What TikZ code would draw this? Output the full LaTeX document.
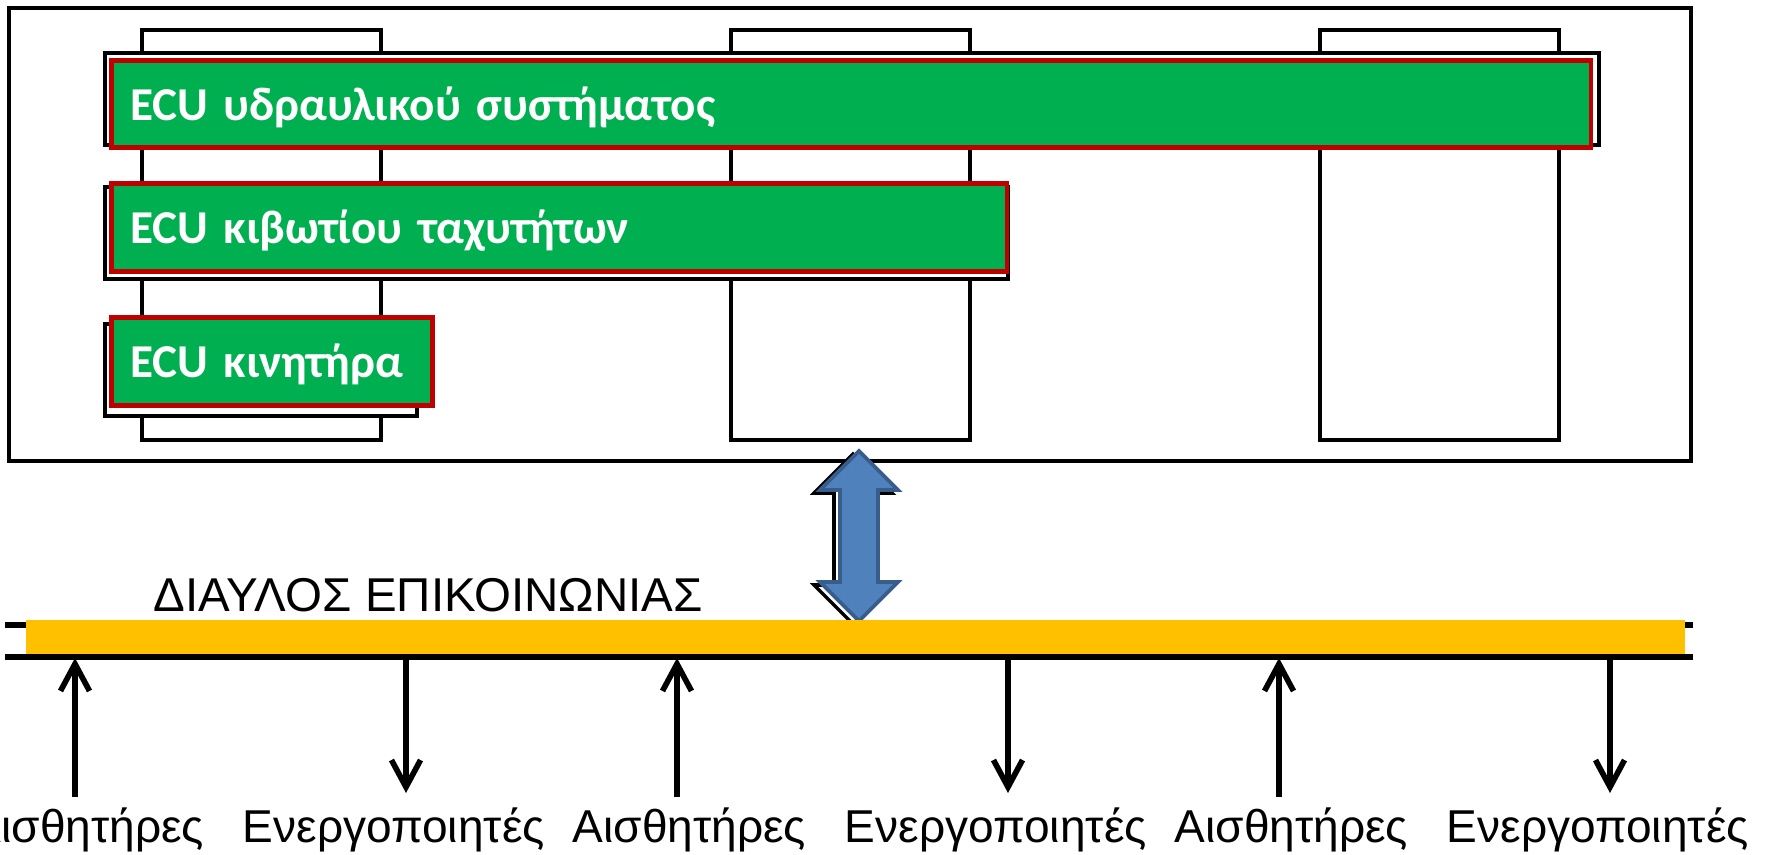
\documentclass[tikz,border=0pt]{standalone}
\usepackage{fontspec}
\setmainfont{Liberation Sans}
\newfontfamily\ecufont{Carlito}
\usetikzlibrary{arrows.meta}
\definecolor{ecugreen}{HTML}{00AF50}
\definecolor{ecured}{HTML}{C00000}
\definecolor{busorange}{HTML}{FFC000}
\definecolor{linkblue}{HTML}{4F81BD}
\definecolor{linkedge}{HTML}{385D8A}

\begin{document}
\begin{tikzpicture}[x=0.01cm, y=-0.01cm,
  >={Straight Barb[length=2.7mm, width=2.9mm]},
  frame/.style={draw, line width=1pt, fill=white},
  ecu/.style={draw=ecured, line width=1.3pt, fill=ecugreen, text=white,
    font=\ecufont\bfseries\fontsize{13.4}{15}\selectfont, anchor=north west,
    align=left, inner xsep=0.19cm, inner ysep=0pt,
    text height=0.45cm, text depth=0.12cm},
  bus/.style={fill=busorange, inner sep=0pt, anchor=north west},
  io/.style={line width=1.6pt},
  sig/.style={font=\fontsize{13.1}{15}\selectfont, anchor=base west, inner sep=0pt}]
  \useasboundingbox (0,0) rectangle (1772,855);

  % control unit
  \draw[frame] (9,8) rectangle (1691,461);
  \foreach \x in {142,731,1320}
    \draw[frame] (\x,30) rectangle (\x+239,440);
  \draw[frame, line width=0.9pt] (105,53) rectangle (1599,145);
  \draw[frame, line width=0.9pt] (105,187) rectangle (1008,279);
  \draw[frame, line width=0.9pt] (105,324) rectangle (417,416);

  \node[ecu, minimum width=14.79cm, minimum height=0.87cm, text width=14.41cm]
    (hyd) at (109,58) {ECU υδραυλικού συστήματος};
  \node[ecu, minimum width=8.95cm, minimum height=0.88cm, text width=8.57cm]
    (gear) at (109,181) {ECU κιβωτίου ταχυτήτων};
  \node[ecu, minimum width=3.21cm, minimum height=0.88cm, text width=2.83cm]
    (eng) at (109,315) {ECU κινητήρα};

  % bus
  \draw[io] (5,625) -- (1693,625);
  \draw[io] (5,657) -- (1693,657);
  \coordinate (line) at (0,658);

  \draw[black, line width=1pt, fill=white, shift={(-6,3)}]
    (859,451) -- (898,490) -- (878,490) -- (878,582) -- (898,582) -- (859,621)
    -- (820,582) -- (840,582) -- (840,490) -- (820,490) -- cycle;
  \draw[linkedge, line width=1.1pt, fill=linkblue]
    (859,451) -- (898,490) -- (878,490) -- (878,582) -- (898,582) -- (859,621)
    -- (820,582) -- (840,582) -- (840,490) -- (820,490) -- cycle;

  \node[bus, minimum width=16.58cm, minimum height=0.34cm] (bus) at (25,619) {};
  \node[sig, font=\fontsize{13.5}{16}\selectfont] (buslabel) at (153,612)
    {ΔΙΑΥΛΟΣ ΕΠΙΚΟΙΝΩΝΙΑΣ};

  % sensors and actuators
  \foreach \i/\x in {1/0,2/602,3/1204} {
    \node[sig] (s\i) at (\x-30,843) {Αισθητήρες};
    \node[sig] (a\i) at (\x+242,843) {Ενεργοποιητές};
    \coordinate (su\i) at (\x+75,797);
    \coordinate (ad\i) at (\x+406,793);
    \draw[io,->] (su\i) -- (su\i |- line);
    \draw[io,->] (ad\i |- line) -- (ad\i);
  }
\end{tikzpicture}
\end{document}
